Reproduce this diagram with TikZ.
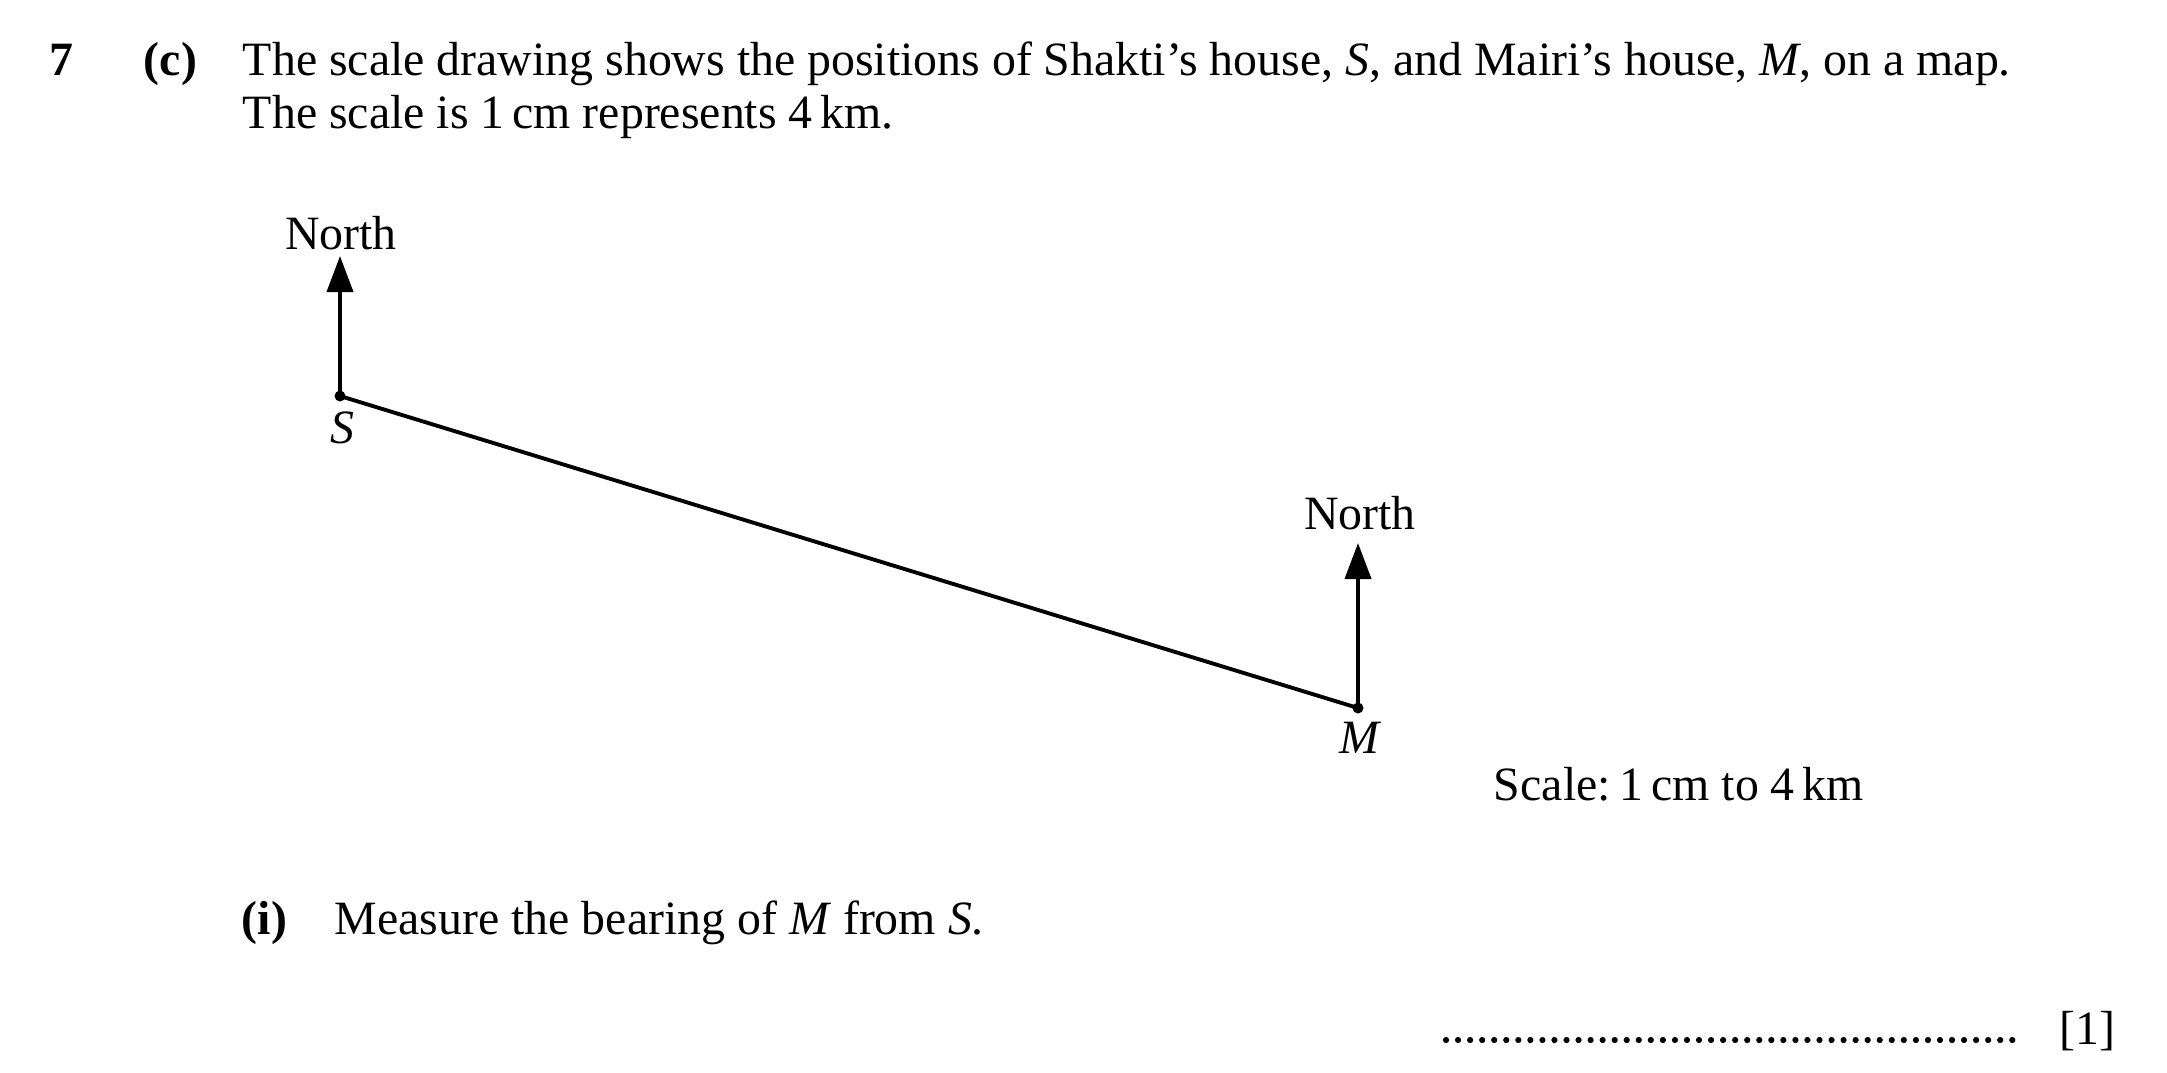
\documentclass[tikz,border=0pt]{standalone}
\usepackage{fontspec}
\setmainfont{Liberation Serif}
\usetikzlibrary{arrows.meta}

\begin{document}
\begin{tikzpicture}[x=0.01cm,y=-0.01cm,line width=1.1pt,
    txt/.style={inner sep=0pt,font=\fontsize{13.6}{16}\selectfont},
    house/.style={circle,fill,inner sep=0pt,minimum size=0.11cm},
    north/.style={-{Triangle[length=3.6mm,width=2.6mm]}}]
    \useasboundingbox (0,0) rectangle (2167,1072);
    % question text
    \node[txt,anchor=base west] (q) at (48,75) {\textbf{7}};
    \node[txt,anchor=base west] (c) at (142,75) {\textbf{(c)}};
    \node[txt,anchor=base west] (l1) at (241,75) {The scale drawing shows the positions of Shakti’s house, \textit{S}, and Mairi’s house, \textit{M}, on a map.};
    \node[txt,anchor=base west] (l2) at (241,128) {The scale is 1\,cm represents 4\,km.};
    % the map
    \node[house] (S) at (340,396) {};
    \node[house] (M) at (1358,708) {};
    \coordinate (Stip) at (340,256);
    \coordinate (Mtip) at (1358,543);
    \node[txt,anchor=base] (SN) at (341,249) {North};
    \node[txt,anchor=base] (MN) at (1360,529) {North};
    \node[txt,anchor=base] (Sl) at (342,443) {\textit{S}};
    \node[txt,anchor=base] (Ml) at (1360,753) {\textit{M}};
    \draw[north] (S.center) -- (Stip);
    \draw[north] (M.center) -- (Mtip);
    \draw (S.center) -- (M.center);
    \node[txt,anchor=base west] (sc) at (1492,800) {Scale:\hspace{0.18em}1\,cm to 4\,km};
    % part (i)
    \node[txt,anchor=base west] (i) at (240,934) {\textbf{(i)}};
    \node[txt,anchor=base west] (qi) at (333,934) {Measure the bearing of \textit{M} from \textit{S}.};
    \coordinate (a1) at (1446,1040);
    \coordinate (a2) at (2024,1040);
    \draw[line width=0.062cm,line cap=round,dash pattern=on 0pt off 0.1204cm] (a1) -- (a2);
    \node[txt,anchor=base west] (mk) at (2058,1044) {[1]};
\end{tikzpicture}
\end{document}
